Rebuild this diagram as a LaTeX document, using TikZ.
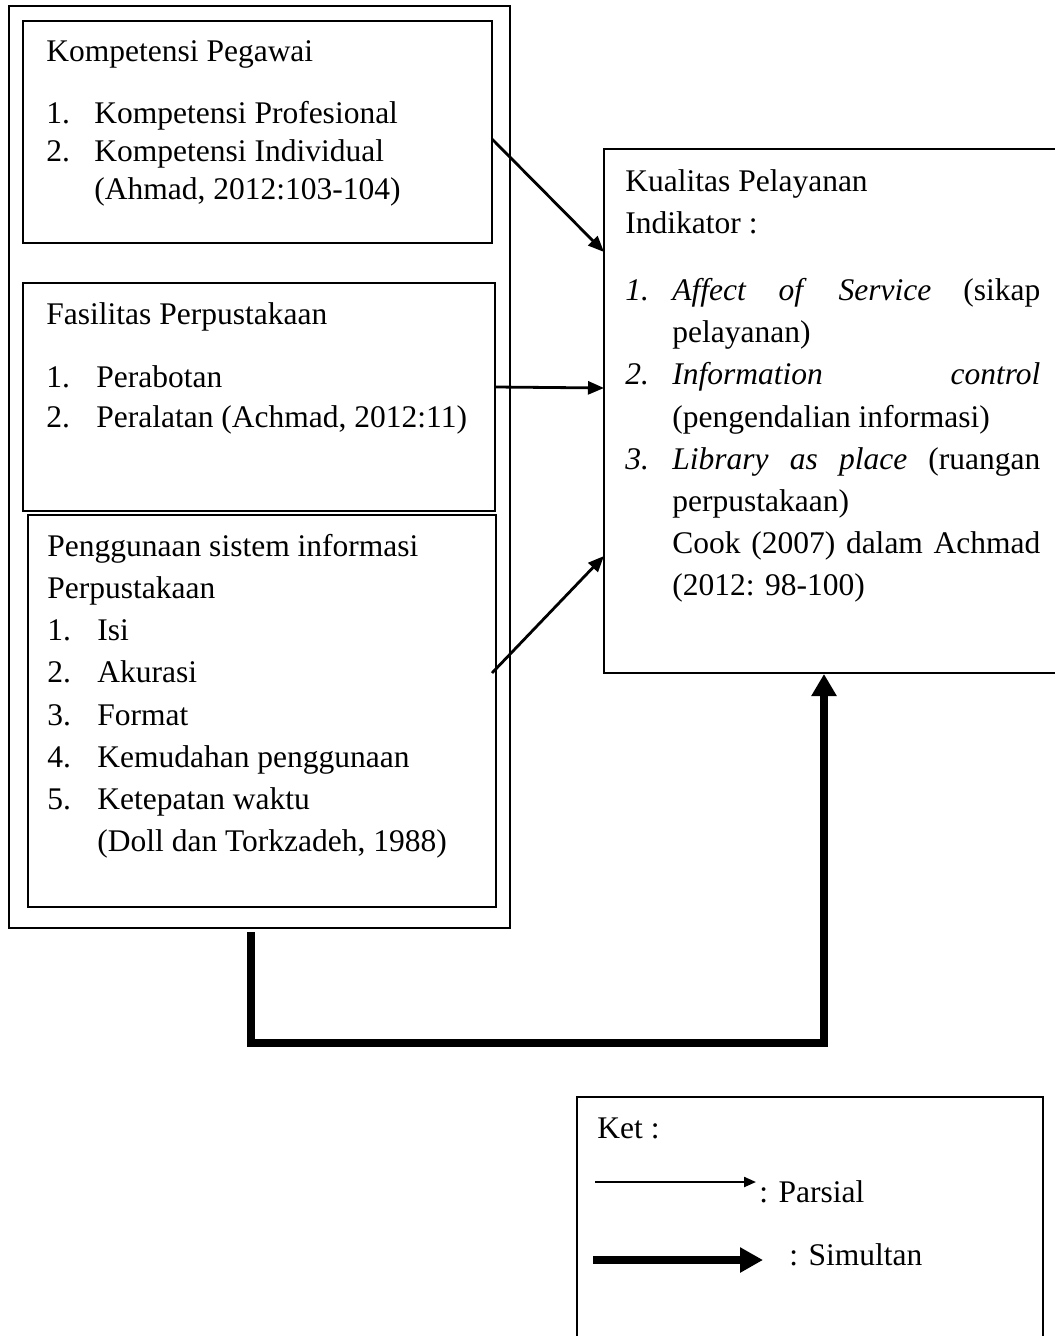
\documentclass[tikz,border=0pt]{standalone}
\usepackage{fontspec}
\setmainfont{Liberation Serif}
\usetikzlibrary{arrows.meta,fit}
\begin{document}
\begin{tikzpicture}[x=0.5pt,y=-0.5pt,
  box/.style={draw,line width=1pt,inner sep=0pt},
  txt/.style={anchor=base west,inner sep=0pt,font=\fontsize{15.75}{19}\selectfont},
  parr/.style={line width=1.4pt,-{Triangle[length=8pt,width=6.5pt]}},
  sarr/.style={line width=4pt,line join=miter,-{Triangle[length=11pt,width=12pt]}},
  legthin/.style={line width=1.1pt,-{Triangle[length=6pt,width=5pt]}},
  legthick/.style={line width=4pt,-{Triangle[length=11.5pt,width=12pt]}},
]
\useasboundingbox (0,0) rectangle (1054,1336);

% boxes
\node[box,fit={(9,6)(510,928)}] (outer) {};
\node[box,fit={(23,21)(492,243)}] (b1) {};
\node[box,fit={(23,283)(495,511)}] (b2) {};
\node[box,fit={(28,515)(496,907)}] (b3) {};
\node[box,fit={(604,149)(1075,673)}] (kp) {};
\node[box,fit={(577,1097)(1043,1360)}] (ket) {};

% box 1
\node[txt] (t11) at (46,62) {Kompetensi Pegawai};
\node[txt] (t12) at (46,124) {1.};
\node[txt] (t13) at (94,124) {Kompetensi Profesional};
\node[txt] (t14) at (46,162) {2.};
\node[txt] (t15) at (94,162) {Kompetensi Individual};
\node[txt] (t16) at (94,200) {(Ahmad, 2012:103-104)};

% box 2
\node[txt] (t21) at (46,325) {Fasilitas Perpustakaan};
\node[txt] (t22) at (46,387) {1.};
\node[txt] (t23) at (96,387) {Perabotan};
\node[txt] (t24) at (46,427) {2.};
\node[txt] (t25) at (96,427) {Peralatan (Achmad, 2012:11)};

% box 3
\node[txt] (t31) at (47,556) {Penggunaan sistem informasi};
\node[txt] (t32) at (47,598) {Perpustakaan};
\node[txt] (t33) at (47,640) {1.};
\node[txt] (t34) at (97,640) {Isi};
\node[txt] (t35) at (47,682) {2.};
\node[txt] (t36) at (97,682) {Akurasi};
\node[txt] (t37) at (47,725) {3.};
\node[txt] (t38) at (97,725) {Format};
\node[txt] (t39) at (47,767) {4.};
\node[txt] (t3a) at (97,767) {Kemudahan penggunaan};
\node[txt] (t3b) at (47,809) {5.};
\node[txt] (t3c) at (97,809) {Ketepatan waktu};
\node[txt] (t3d) at (97,851) {(Doll dan Torkzadeh, 1988)};

% right box
\node[txt] (k1) at (625,192) {Kualitas Pelayanan};
\node[txt] (k2) at (625,234) {Indikator :};
\node[txt] (k3) at (625,301) {\textit{1.}};
\node[txt] (k4) at (672,301) {\hbox to 184pt{\textit{Affect}\hfill\textit{of}\hfill\textit{Service}\hfill(sikap}};
\node[txt] (k5) at (672,343) {pelayanan)};
\node[txt] (k6) at (625,385) {\textit{2.}};
\node[txt] (k7) at (672,385) {\hbox to 184pt{\textit{Information}\hfill\textit{control}}};
\node[txt] (k8) at (672,427) {(pengendalian informasi)};
\node[txt] (k9) at (625,469) {\textit{3.}};
\node[txt] (ka) at (672,469) {\hbox to 184pt{\textit{Library}\hfill\textit{as}\hfill\textit{place}\hfill(ruangan}};
\node[txt] (kb) at (672,511) {perpustakaan)};
\node[txt] (kc) at (672,553) {\hbox to 184pt{Cook\hfill(2007)\hfill dalam\hfill Achmad}};
\node[txt] (kd) at (672,595) {(2012: 98-100)};

% partial arrows
\coordinate (a1s) at (492,139);
\coordinate (a1e) at (604,252);
\coordinate (a2s) at (495,387);
\coordinate (a2e) at (604,388);
\coordinate (a3s) at (492,673);
\coordinate (a3e) at (604,556);
\draw[parr] (a1s) -- (a1e);
\draw[parr] (a2s) -- (a2e);
\draw[parr] (a3s) -- (a3e);

% simultaneous arrow
\coordinate (s0) at (251,932);
\coordinate (s1) at (251,1043);
\coordinate (s2) at (824,1043);
\draw[sarr] (s0) -- (s1) -- (s2) -- (kp.south -| s2);

% legend
\node[txt] (l1) at (597,1138) {Ket :};
\coordinate (lp0) at (595,1182);
\coordinate (lp1) at (756,1182);
\draw[legthin] (lp0) -- (lp1);
\node[txt] (l2) at (759,1202) {: Parsial};
\coordinate (ls0) at (593,1260);
\coordinate (ls1) at (763,1260);
\draw[legthick] (ls0) -- (ls1);
\node[txt] (l3) at (789,1265) {: Simultan};
\end{tikzpicture}
\end{document}
